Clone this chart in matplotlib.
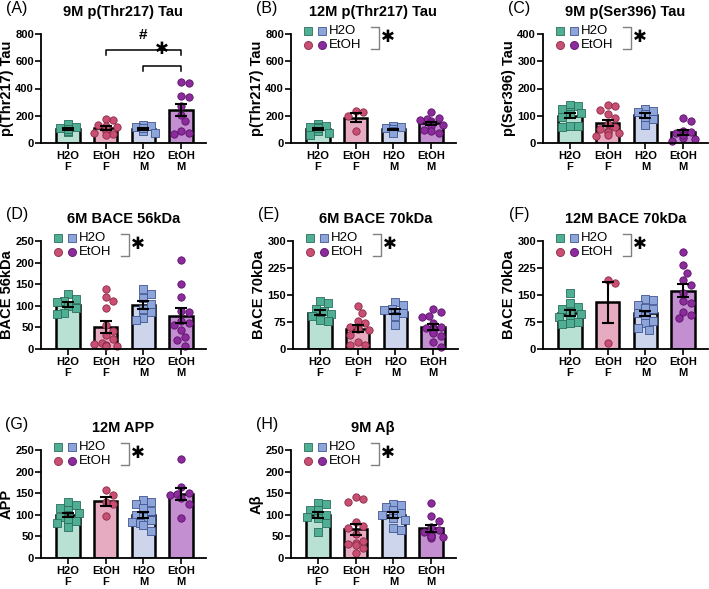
import numpy as np
import matplotlib
matplotlib.use('Agg')
import matplotlib.pyplot as plt

plt.rcParams['font.family'] = ['Liberation Sans', 'DejaVu Sans']

# ---------------- data ----------------
groups = ['H2O\nF', 'EtOH\nF', 'H2O\nM', 'EtOH\nM']

A_h2o_f = [140, 118, 110, 95, 78, 100, 88, 105]
A_etoh_f = [170, 175, 130, 120, 110, 95, 85, 75, 65, 60, 125]
A_h2o_m = [130, 120, 125, 95, 75, 85, 110]
A_etoh_m = [440, 448, 342, 335, 274, 208, 159, 86, 73, 68]

B_h2o_f = [140, 125, 115, 105, 100, 95, 85, 75, 60, 110, 120]
B_etoh_f = [235, 225, 200, 85]
B_h2o_m = [125, 115, 110, 100, 90, 80, 75]
B_etoh_m = [225, 185, 175, 170, 160, 145, 135, 125, 90, 75, 95]

C_h2o_f = [138, 135, 125, 115, 110, 105, 95, 62, 60, 63]
C_etoh_f = [140, 135, 120, 108, 90, 70, 60, 50, 45, 35, 25, 40, 30]
C_h2o_m = [125, 118, 112, 105, 95, 88, 65]
C_etoh_m = [92, 80, 45, 40, 35, 28, 20, 15, 8, 30]

D_h2o_f = [127, 115, 110, 108, 100, 95, 83, 80]
D_etoh_f = [138, 120, 110, 95, 55, 42, 32, 22, 15, 10, 6, 12, 8]
D_h2o_m = [140, 128, 118, 105, 92, 85, 72, 68]
D_etoh_m = [205, 150, 120, 88, 85, 65, 60, 55, 45, 28, 6, 20]

E_h2o_f = [133, 128, 112, 105, 98, 92, 85, 78, 80]
E_etoh_f = [120, 100, 78, 72, 62, 52, 40, 20, 10, 12, 60, 55]
E_h2o_m = [130, 122, 110, 104, 100, 92, 67, 108]
E_etoh_m = [112, 103, 92, 90, 72, 62, 55, 48, 35, 20, 6, 58, 45]

F_h2o_f = [155, 127, 118, 110, 104, 98, 90, 80, 75, 70, 72]
F_etoh_f = [192, 182, 16]
F_h2o_m = [140, 135, 122, 112, 105, 100, 95, 78, 72, 58, 52, 115]
F_etoh_m = [270, 233, 212, 192, 178, 155, 132, 128, 104, 95, 85]

G_h2o_f = [130, 122, 115, 112, 105, 100, 96, 92, 86, 80, 72, 90]
G_etoh_f = [158, 146, 130, 125, 98]
G_h2o_m = [135, 130, 126, 115, 108, 100, 96, 88, 80, 76, 62, 84]
G_etoh_m = [230, 165, 150, 145, 148, 138, 125, 92]

H_h2o_f = [127, 125, 112, 110, 100, 92, 82, 60, 95]
H_etoh_f = [141, 137, 130, 83, 75, 70, 55, 35, 32, 22, 12, 40, 30]
H_h2o_m = [125, 123, 117, 112, 105, 92, 88, 65, 70, 100]
H_etoh_m = [127, 98, 85, 72, 65, 60, 55, 52, 48, 46, 50]

titles = ['9M p(Thr217) Tau', '12M p(Thr217) Tau', '9M p(Ser396) Tau',
          '6M BACE 56kDa', '6M BACE 70kDa', '12M BACE 70kDa',
          '12M APP', '9M A\u03b2']
ylabels = ['p(Thr217) Tau', 'p(Thr217) Tau', 'p(Ser396) Tau',
           'BACE 56kDa', 'BACE 70kDa', 'BACE 70kDa', 'APP', 'A\u03b2']
letters = ['(A)', '(B)', '(C)', '(D)', '(E)', '(F)', '(G)', '(H)']
yticks_list = [[0, 200, 400, 600, 800], [0, 200, 400, 600, 800],
               [0, 100, 200, 300, 400],
               [0, 50, 100, 150, 200, 250], [0, 75, 150, 225, 300],
               [0, 75, 150, 225, 300],
               [0, 50, 100, 150, 200, 250], [0, 50, 100, 150, 200, 250]]
panel_data = [
    [A_h2o_f, A_etoh_f, A_h2o_m, A_etoh_m],
    [B_h2o_f, B_etoh_f, B_h2o_m, B_etoh_m],
    [C_h2o_f, C_etoh_f, C_h2o_m, C_etoh_m],
    [D_h2o_f, D_etoh_f, D_h2o_m, D_etoh_m],
    [E_h2o_f, E_etoh_f, E_h2o_m, E_etoh_m],
    [F_h2o_f, F_etoh_f, F_h2o_m, F_etoh_m],
    [G_h2o_f, G_etoh_f, G_h2o_m, G_etoh_m],
    [H_h2o_f, H_etoh_f, H_h2o_m, H_etoh_m],
]
has_legend = [False, True, True, True, True, True, True, True]

# A significance brackets: (x1, x2, y, symbol)
A_brackets = [(1, 3, 680, '#'), (2, 3, 567, '\u2731')]

# ---------------- style ----------------
bar_fill = ['#b8e0d3', '#e6abc0', '#ccd5ec', '#c48fd1']
pt_face = ['#4fae93', '#c94f72', '#8ea5d9', '#8b2b9c']
pt_edge = ['#2c6e5c', '#8a2a48', '#3f5590', '#5a1468']
markers = ['s', 'o', 's', 'o']

W, Hf = 709, 589
fig = plt.figure(figsize=(W / 100, Hf / 100), dpi=100)

SP = 37.7          # px per category
XL = (-0.72, 3.65)
AXW = (XL[1] - XL[0]) * SP
x0s = [68, 318, 570, 68, 320, 570, 68, 318]
rows = [(143, 34), (349, 241), (558, 450)]


def swarm(vals, ppx, ppy, d=7.6, maxoff=0.36):
    vals = np.asarray(vals, float)
    order = np.argsort(-vals)
    placed = []
    xs = np.zeros(len(vals))
    cands = [0.0] + [s * k * d * 0.5 for k in range(1, 30) for s in (1, -1)]
    for i in order:
        y = vals[i] * ppy
        best = 0.0
        for c in cands:
            if abs(c) > maxoff * ppx:
                continue
            if all((c - px) ** 2 + (y - py) ** 2 >= d * d for px, py in placed):
                best = c
                break
        placed.append((best, y))
        xs[i] = best / ppx
    return xs


for p in range(8):
    r = p // 3
    y0, ytop = rows[r]
    axh = y0 - ytop
    left = x0s[p] + XL[0] * SP
    ax = fig.add_axes([left / W, (Hf - y0) / Hf, AXW / W, axh / Hf])
    ymax = yticks_list[p][-1]
    ax.set_xlim(*XL)
    ax.set_ylim(0, ymax)
    ppy = axh / ymax
    for g in range(4):
        vals = np.array(panel_data[p][g], float)
        m = vals.mean()
        sem = vals.std(ddof=1) / np.sqrt(len(vals))
        ax.bar(g, m, width=0.62, color=bar_fill[g], edgecolor='black',
               linewidth=1.8, zorder=1)
        xs = swarm(vals, SP, ppy)
        ax.scatter(g + xs, vals, marker=markers[g], s=28, c=pt_face[g],
                   edgecolors=pt_edge[g], linewidths=0.6, zorder=2,
                   clip_on=False)
        ax.errorbar(g, m, yerr=sem, color='black', lw=1.5, capsize=4,
                    capthick=1.5, zorder=3)
    ax.spines['top'].set_visible(False)
    ax.spines['right'].set_visible(False)
    for s in ('left', 'bottom'):
        ax.spines[s].set_linewidth(1.3)
    ax.set_yticks(yticks_list[p])
    ax.set_yticklabels([str(t) for t in yticks_list[p]],
                       fontweight='bold', fontsize=8)
    ax.set_xticks(range(4))
    ax.set_xticklabels(groups, fontweight='bold', fontsize=8,
                       linespacing=1.1)
    ax.tick_params(axis='both', width=1.2, length=4, pad=1)
    ax.tick_params(axis='x', pad=2)
    ax.set_ylabel(ylabels[p], fontweight='bold', fontsize=10.5, labelpad=1)
    ax.set_title(titles[p], fontweight='bold', fontsize=10.5, pad=13)
    # panel letter
    fig.text((left - 24) / W, (Hf - (ytop - 26)) / Hf, letters[p],
             fontsize=11.5, ha='center', va='center')

    if has_legend[p]:
        def fx(dx):
            return dx / AXW

        def fy(dy):
            return 1 + dy / axh
        tr = ax.transAxes
        r1, r2 = 3, -11
        ax.plot([fx(17)], [fy(r1)], 's', ms=5.8, mfc=pt_face[0], mec=pt_edge[0],
                mew=0.6, transform=tr, clip_on=False)
        ax.plot([fx(31)], [fy(r1)], 's', ms=5.8, mfc=pt_face[2], mec=pt_edge[2],
                mew=0.6, transform=tr, clip_on=False)
        ax.plot([fx(17)], [fy(r2)], 'o', ms=5.8, mfc=pt_face[1], mec=pt_edge[1],
                mew=0.6, transform=tr, clip_on=False)
        ax.plot([fx(31)], [fy(r2)], 'o', ms=5.8, mfc=pt_face[3], mec=pt_edge[3],
                mew=0.6, transform=tr, clip_on=False)
        ax.text(fx(38), fy(r1), 'H2O', fontsize=9.5, va='center', ha='left',
                transform=tr)
        ax.text(fx(38), fy(r2), 'EtOH', fontsize=9.5, va='center', ha='left',
                transform=tr)
        ax.plot([fx(80), fx(88), fx(88), fx(80)],
                [fy(7), fy(7), fy(-15), fy(-15)], color='#808080', lw=1,
                transform=tr, clip_on=False)
        ax.text(fx(97), fy(-3), '\u2731', fontsize=12, ha='center',
                va='center', transform=tr, family='DejaVu Sans')

    if p == 0:
        tick_len = 5 / ppy
        for x1, x2, yb, sym in A_brackets:
            ax.plot([x1, x1, x2, x2], [yb - tick_len, yb, yb, yb - tick_len],
                    color='black', lw=1.1, clip_on=False)
            if sym == '#':
                ax.text((x1 + x2) / 2, yb + 8 / ppy, sym, fontsize=11,
                        fontweight='bold', ha='center', va='bottom')
            else:
                ax.text((x1 + x2) / 2, yb + 8 / ppy, sym, fontsize=12,
                        ha='center', va='bottom', family='DejaVu Sans')

fig.savefig('out.png', dpi=100)
